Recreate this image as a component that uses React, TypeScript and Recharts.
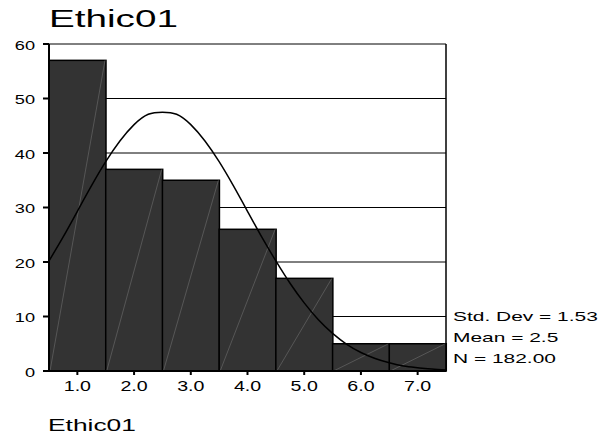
import React from "react";
import {
  ComposedChart,
  Bar,
  Line,
  XAxis,
  YAxis,
  CartesianGrid,
  ReferenceLine,
} from "recharts";

// ---------- data ----------

const BINS = ["1.0", "2.0", "3.0", "4.0", "5.0", "6.0", "7.0"];
const COUNTS = [57, 37, 35, 26, 17, 5, 5];

// normal curve
const CURVE_X = [
  0.5, 0.75, 1.0, 1.25, 1.5, 1.75, 2.0, 2.25, 2.5, 2.75, 3.0, 3.25, 3.5, 3.75,
  4.0, 4.25, 4.5, 4.75, 5.0, 5.25, 5.5, 5.75, 6.0, 6.25, 6.5, 6.75, 7.0, 7.25,
  7.5,
];
const CURVE_Y = [
  20.2, 24.6, 29.3, 34.0, 38.4, 42.2, 45.2, 47.1, 47.5, 47.1, 45.2, 42.2, 38.4,
  34.0, 29.3, 24.6, 20.2, 16.1, 12.5, 9.4, 6.9, 4.9, 3.4, 2.3, 1.5, 0.9, 0.6,
  0.35, 0.2,
];

const Y_TICKS = [0, 10, 20, 30, 40, 50, 60];
const STATS = ["Std.  Dev = 1.53", "Mean = 2.5", "N = 182.00"];

const TITLE = "Ethic01";
const X_LABEL = "Ethic01";

const barData = BINS.map((bin, i) => ({ bin, count: COUNTS[i] }));
const curveData = CURVE_X.map((x, i) => ({ x, y: CURVE_Y[i] }));

const FONT = "'Liberation Sans', Arial, sans-serif";
const STRETCH = 1.4;

// ---------- pieces ----------

function HatchedBar(props: any) {
  const { x, y, width, height } = props;
  if (!height) return null;
  return (
    <g>
      <rect
        x={x}
        y={y}
        width={width}
        height={height}
        fill="#333333"
        stroke="#000"
        strokeWidth={1.5}
      />
      <line
        x1={x + 1}
        y1={y + height}
        x2={x + width - 1}
        y2={y}
        stroke="#7a7a7a"
        strokeWidth={0.5}
      />
    </g>
  );
}

function YTick(props: any) {
  const { x, y, payload } = props;
  return (
    <g transform={`translate(${x},${y})`}>
      <text
        transform={`scale(${STRETCH},1)`}
        textAnchor="end"
        dy="0.45em"
        fontSize={13}
        fontFamily={FONT}
        fill="#000"
      >
        {payload.value}
      </text>
    </g>
  );
}

function XTick(props: any) {
  const { x, y, payload } = props;
  return (
    <g transform={`translate(${x},${y})`}>
      <text
        transform={`scale(${STRETCH},1)`}
        textAnchor="middle"
        dy="0.71em"
        fontSize={14}
        fontFamily={FONT}
        fill="#000"
      >
        {payload.value}
      </text>
    </g>
  );
}

const stretched = (size: number, scale: number): React.CSSProperties => ({
  position: "absolute",
  fontFamily: FONT,
  fontSize: size,
  lineHeight: `${size}px`,
  whiteSpace: "nowrap",
  transform: `scaleX(${scale})`,
  transformOrigin: "left",
  color: "#000",
});

export default function App() {
  return (
    <div
      style={{
        position: "absolute",
        left: 0,
        top: 0,
        width: 608,
        height: 440,
        background: "#fff",
      }}
    >
      <div style={{ ...stretched(23, 1.68), left: 49, top: 8 }}>{TITLE}</div>

      <ComposedChart
        width={608}
        height={440}
        data={barData}
        barCategoryGap={0}
        margin={{ top: 44, right: 162, left: 0, bottom: 39 }}
      >
        <CartesianGrid
          vertical={false}
          stroke="#000"
          strokeWidth={1}
          yAxisId="left"
          xAxisId="bars"
        />
        <XAxis
          xAxisId="bars"
          dataKey="bin"
          type="category"
          height={30}
          axisLine={{ stroke: "#000", strokeWidth: 2 }}
          tickLine={{ stroke: "#000", strokeWidth: 2 }}
          tickSize={4}
          tickMargin={6}
          tick={<XTick />}
          interval={0}
        />
        <XAxis
          xAxisId="curve"
          dataKey="x"
          type="number"
          domain={[0.5, 7.5]}
          allowDataOverflow
          hide
        />
        <YAxis
          yAxisId="left"
          domain={[0, 60]}
          ticks={Y_TICKS}
          width={49}
          axisLine={{ stroke: "#000", strokeWidth: 2 }}
          tickLine={{ stroke: "#000", strokeWidth: 2 }}
          tickSize={6}
          tickMargin={8}
          tick={<YTick />}
          interval={0}
        />
        <Bar
          xAxisId="bars"
          yAxisId="left"
          dataKey="count"
          shape={<HatchedBar />}
          isAnimationActive={false}
        />
        <Line
          xAxisId="curve"
          yAxisId="left"
          data={curveData}
          dataKey="y"
          type="natural"
          stroke="#000"
          strokeWidth={1.5}
          dot={false}
          activeDot={false}
          isAnimationActive={false}
        />
        <ReferenceLine
          xAxisId="curve"
          yAxisId="left"
          x={7.5}
          stroke="#000"
          strokeWidth={1.5}
          ifOverflow="visible"
        />
      </ComposedChart>

      {STATS.map((s, i) => (
        <div key={s} style={{ ...stretched(13.5, 1.55), left: 453, top: 310 + i * 21 }}>
          {s}
        </div>
      ))}

      <div style={{ ...stretched(17, 1.55), left: 48, top: 417 }}>{X_LABEL}</div>
    </div>
  );
}
